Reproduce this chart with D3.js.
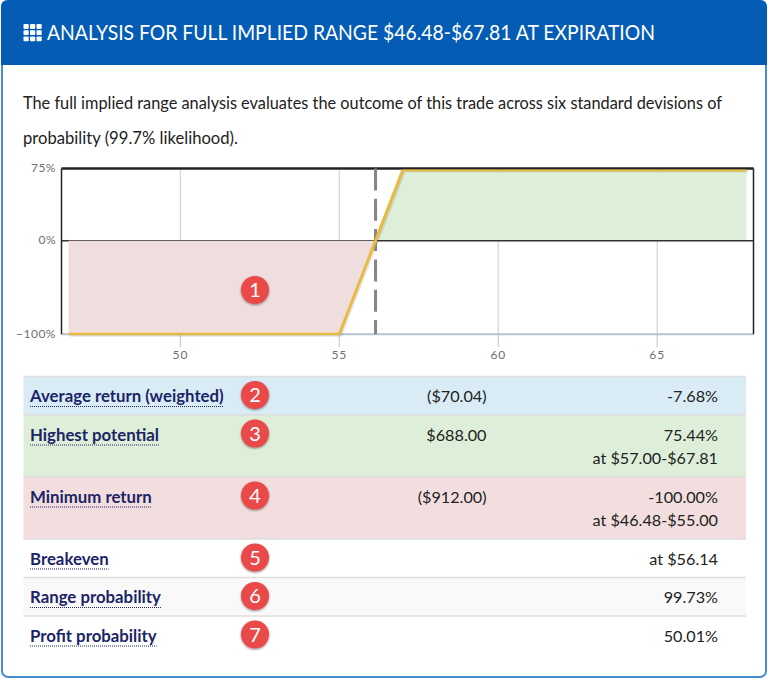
<!DOCTYPE html>
<html>
<head>
<meta charset="utf-8">
<script src="https://cdn.jsdelivr.net/npm/d3@7"></script>
<style>
  html, body { margin: 0; padding: 0; background: #fff; }
  svg { display: block; font-family: Lato, sans-serif; }
</style>
</head>
<body>
<svg id="chart" width="768" height="679"></svg>
<script>
var titleText = "ANALYSIS FOR FULL IMPLIED RANGE $46.48-$67.81 AT EXPIRATION";
var introLines = [
  "The full implied range analysis evaluates the outcome of this trade across six standard devisions of",
  "probability (99.7% likelihood)."
];

// payoff at expiration (price, return %)
var lossPrices = [46.48, 55, 56.14];
var lossReturns = [-100, -100, 0];
var gainPrices = [56.14, 57, 67.81];
var gainReturns = [0, 75.44, 75.44];
var payoffPrices = [46.48, 55, 57, 67.81];
var payoffReturns = [-100, -100, 75.44, 75.44];
var breakeven = 56.14;
var xTicks = [50, 55, 60, 65];
var yTicks = [-100, 0, 75];

var rowLabels = ["Average return (weighted)", "Highest potential", "Minimum return", "Breakeven", "Range probability", "Profit probability"];
var rowAmounts = ["($70.04)", "$688.00", "($912.00)", "", "", ""];
var rowValues = ["-7.68%", "75.44%", "-100.00%", "at $56.14", "99.73%", "50.01%"];
var rowNotes = ["", "at $57.00-$67.81", "at $46.48-$55.00", "", "", ""];
var rowFills = ["#d9ecf6", "#deefd9", "#f2dede", "#ffffff", "#f9f9f9", "#ffffff"];
var rowBadges = ["2", "3", "4", "5", "6", "7"];

var svg = d3.select("#chart");

var defs = svg.append("defs");
var shadow = defs.append("filter").attr("id", "badgeShadow")
  .attr("x", "-30%").attr("y", "-30%").attr("width", "160%").attr("height", "160%");
shadow.append("feDropShadow").attr("dx", 0).attr("dy", 1).attr("stdDeviation", 1)
  .attr("flood-color", "#000").attr("flood-opacity", 0.45);

// panel + header
svg.append("rect")
  .attr("x", 2).attr("y", 2).attr("width", 764).attr("height", 675).attr("rx", 6)
  .attr("fill", "#fff").attr("stroke", "#4a8cd0").attr("stroke-width", 2);
svg.append("path")
  .attr("d", "M1,65V7Q1,0 8,0H760Q767,0 767,7V65Z")
  .attr("fill", "#045cb4");

// th icon
var iconCells = d3.cross(d3.range(3), d3.range(3));
svg.append("g").selectAll("rect").data(iconCells).enter().append("rect")
  .attr("x", function(d) { return 23.5 + d[0] * 6.5; })
  .attr("y", function(d) { return 24 + d[1] * 6.2; })
  .attr("width", 5.2).attr("height", 4.9).attr("rx", 0.8)
  .attr("fill", "#fff");

svg.append("text")
  .attr("x", 47).attr("y", 39.5)
  .attr("font-size", 20.5).attr("fill", "#fff")
  .attr("textLength", 608).attr("lengthAdjust", "spacingAndGlyphs")
  .text(titleText);

var introWidths = [699, 215];
svg.append("g").selectAll("text").data(introLines).enter().append("text")
  .attr("x", 23).attr("y", function(d, i) { return 109 + i * 35; })
  .attr("font-size", 16.5).attr("fill", "#222")
  .attr("textLength", function(d, i) { return introWidths[i]; })
  .attr("lengthAdjust", "spacingAndGlyphs")
  .text(function(d) { return d; });

// plot
var x = d3.scaleLinear().domain([46.26, 68.03]).range([61.5, 753.5]);
var y = d3.scaleLinear().domain([-100, 77]).range([334.3, 168.5]);

// the payoff line is cut by the plot edge at top and bottom
defs.append("clipPath").attr("id", "plotClip").append("rect")
  .attr("x", x.range()[0]).attr("y", y(77) + 1)
  .attr("width", x.range()[1] - x.range()[0]).attr("height", y(-100) - y(77));

xTicks.forEach(function(t) {
  svg.append("line")
    .attr("x1", x(t)).attr("x2", x(t)).attr("y1", y(77)).attr("y2", y(-100))
    .attr("stroke", "#d5dae1").attr("stroke-width", 1.4);
  svg.append("line")
    .attr("x1", x(t)).attr("x2", x(t)).attr("y1", y(-100)).attr("y2", y(-100) + 13)
    .attr("stroke", "#c0d0e0").attr("stroke-width", 1.2);
  svg.append("text")
    .attr("x", x(t)).attr("y", y(-100) + 25)
    .attr("text-anchor", "middle").attr("font-size", 12)
    .attr("letter-spacing", 0.9).attr("fill", "#707070")
    .text(t);
});

var area = d3.area()
  .x(function(d) { return x(d[0]); })
  .y0(y(0))
  .y1(function(d) { return y(d[1]); });

svg.append("path").datum(d3.zip(gainPrices, gainReturns))
  .attr("d", area).attr("fill", "#deefd9");

// frame: top, left and right are black, the zero line runs across
svg.append("line")
  .attr("x1", x.range()[0]).attr("x2", x.range()[1]).attr("y1", y(0)).attr("y2", y(0))
  .attr("stroke", "#333").attr("stroke-width", 1.5);
svg.append("path").datum(d3.zip(lossPrices, lossReturns))
  .attr("d", area).attr("fill", "#f0dddd");
svg.append("line")
  .attr("x1", x.range()[0]).attr("x2", x.range()[1]).attr("y1", y(-100)).attr("y2", y(-100))
  .attr("stroke", "#b4c2d2").attr("stroke-width", 2);
svg.append("line")
  .attr("x1", x.range()[0]).attr("x2", x.range()[1]).attr("y1", y(77)).attr("y2", y(77))
  .attr("stroke", "#222").attr("stroke-width", 2.4);
svg.append("line")
  .attr("x1", x.range()[0]).attr("x2", x.range()[0]).attr("y1", y(77)).attr("y2", y(-100))
  .attr("stroke", "#222").attr("stroke-width", 1.5);
svg.append("line")
  .attr("x1", x.range()[1]).attr("x2", x.range()[1]).attr("y1", y(77)).attr("y2", y(-100))
  .attr("stroke", "#222").attr("stroke-width", 1.5);

yTicks.forEach(function(t) {
  svg.append("text")
    .attr("x", 56).attr("y", y(t) + (t === 75 ? 2 : 3.5))
    .attr("text-anchor", "end").attr("font-size", 12)
    .attr("letter-spacing", 0.5).attr("fill", "#707070")
    .text(t === -100 ? "\u2212100%" : t + "%");
});

var payoffLine = d3.line()
  .x(function(d) { return x(d[0]); })
  .y(function(d) { return y(d[1]); });
// soft shadow under the payoff line
svg.append("path").datum(d3.zip(payoffPrices, payoffReturns))
  .attr("d", payoffLine).attr("fill", "none")
  .attr("transform", "translate(1.5,1)")
  .attr("stroke", "#000").attr("stroke-opacity", 0.1).attr("stroke-width", 3);

svg.append("line")
  .attr("x1", x(breakeven)).attr("x2", x(breakeven)).attr("y1", y(77)).attr("y2", y(-100))
  .attr("stroke", "#858585").attr("stroke-width", 3).attr("stroke-dasharray", "22,8.3");

svg.append("path").datum(d3.zip(payoffPrices, payoffReturns))
  .attr("d", payoffLine).attr("fill", "none")
  .attr("clip-path", "url(#plotClip)")
  .attr("stroke", "#e8bb3f").attr("stroke-width", 3);

function badge(cx, cy, label) {
  svg.append("circle").attr("cx", cx).attr("cy", cy).attr("r", 14)
    .attr("fill", "#e94848").attr("filter", "url(#badgeShadow)");
  svg.append("text").attr("x", cx).attr("y", cy + 7)
    .attr("text-anchor", "middle").attr("font-size", 20).attr("fill", "#fff")
    .text(label);
}
badge(255, 290, "1");

// table, row height follows from whether there is a second line
var rowY = 376.5;
rowLabels.forEach(function(label, i) {
  var h = rowNotes[i] ? 62 : 38.5;
  svg.append("rect")
    .attr("x", 23.5).attr("y", rowY).attr("width", 722.5).attr("height", h)
    .attr("fill", rowFills[i]);
  svg.append("line")
    .attr("x1", 23.5).attr("x2", 746).attr("y1", rowY).attr("y2", rowY)
    .attr("stroke", "#dedede").attr("stroke-width", 1.5);

  var base = rowY + 25.5;
  var t = svg.append("text")
    .attr("x", 30).attr("y", base)
    .attr("font-size", 16.8).attr("font-weight", 700).attr("fill", "#1b2466")
    .text(label);
  var w = t.node().getComputedTextLength();
  svg.append("line")
    .attr("x1", 30).attr("x2", 30 + w).attr("y1", base + 4.5).attr("y2", base + 4.5)
    .attr("stroke", "#1b2466").attr("stroke-width", 1).attr("stroke-dasharray", "1,1");

  svg.append("text").attr("x", 486.5).attr("y", base)
    .attr("text-anchor", "end").attr("font-size", 16.2).attr("fill", "#222")
    .text(rowAmounts[i]);
  svg.append("text").attr("x", 718).attr("y", base)
    .attr("text-anchor", "end").attr("font-size", 16.2).attr("fill", "#222")
    .text(rowValues[i]);
  if (rowNotes[i]) {
    svg.append("text").attr("x", 718).attr("y", base + 23)
      .attr("text-anchor", "end").attr("font-size", 16.2).attr("fill", "#222")
      .text(rowNotes[i]);
  }
  badge(255, rowY + 18.5, rowBadges[i]);
  rowY += h;
});
</script>
</body>
</html>
